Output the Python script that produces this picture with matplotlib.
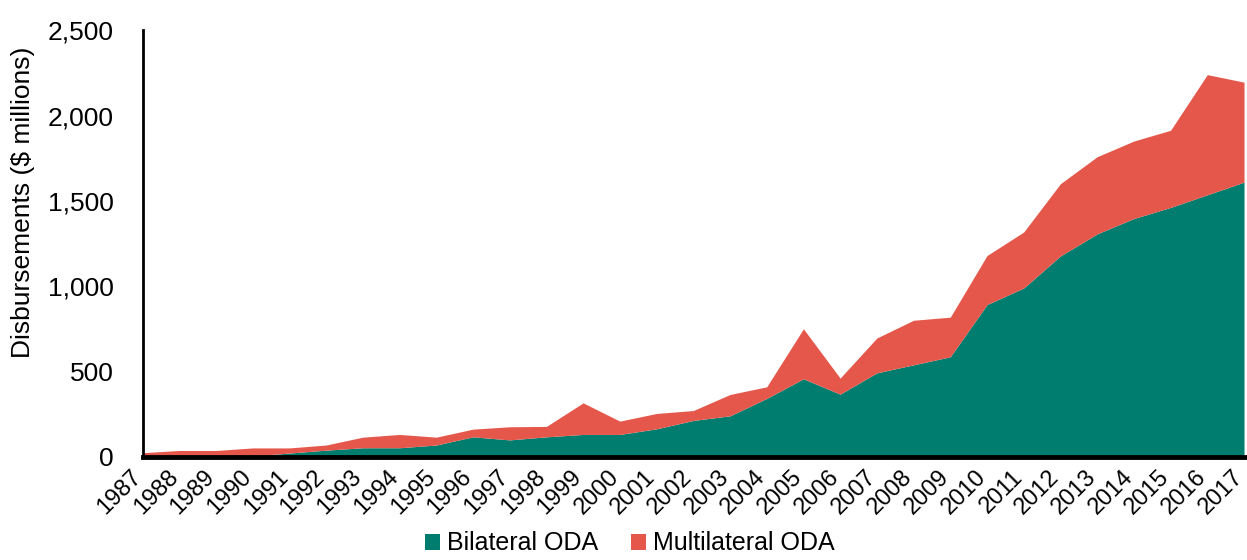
import matplotlib
matplotlib.use("Agg")
import matplotlib.pyplot as plt
from matplotlib.patches import Patch
from matplotlib.ticker import FuncFormatter
from matplotlib.transforms import ScaledTranslation

years = list(range(1987, 2018))
bilateral = [0, 0, 0, 3, 20, 37, 51, 51, 67, 115, 97, 115, 129, 129,
             162, 211, 238, 340, 455, 365, 490, 537, 584, 890, 987,
             1175, 1304, 1394, 1459, 1533, 1607]
total = [22, 35, 35, 50, 50, 67, 113, 129, 113, 160, 174, 176, 314, 207,
         252, 269, 363, 408, 748, 459, 694, 798, 816, 1177, 1315,
         1598, 1756, 1848, 1911, 2237, 2193]
multilateral = [t - b for t, b in zip(total, bilateral)]
series_names = ["Bilateral ODA", "Multilateral ODA"]
colors = ["#007D6E", "#E5574A"]

plt.rcParams['font.family'] = ['Liberation Sans', 'DejaVu Sans']

fig = plt.figure(figsize=(12.47, 5.6), dpi=100)
ax = fig.add_axes([0.1147, 0.184, 0.8833, 0.762])

ax.stackplot(years, bilateral, multilateral, colors=colors, linewidth=0)

ax.set_xlim(1987, 2017)
ax.set_ylim(0, 2500)
ax.set_yticks([0, 500, 1000, 1500, 2000, 2500])
ax.yaxis.set_major_formatter(FuncFormatter(lambda v, p: f"{int(v):,}"))
ax.set_xticks(years)
ax.set_xticklabels([str(y) for y in years], rotation=45, ha='right',
                   va='center', rotation_mode='anchor', fontsize=17)
ax.tick_params(axis='y', labelsize=19, length=0, pad=21)
ax.tick_params(axis='x', length=0, pad=12)
ax.set_ylabel("Disbursements ($ millions)", fontsize=19)
ax.yaxis.set_label_coords(-0.098, 0.597)

for s in ['top', 'right']:
    ax.spines[s].set_visible(False)
ax.spines['left'].set_linewidth(2)
ax.spines['bottom'].set_linewidth(3.5)

handles = [Patch(facecolor=c, edgecolor='none') for c in colors]
fig.legend(handles, series_names, loc='lower center', ncol=2, frameon=False,
           fontsize=18, handlelength=0.6, handleheight=0.6, handletextpad=0.3,
           columnspacing=1.3, bbox_to_anchor=(0.505, -0.032))

fig.canvas.draw()
offset = ScaledTranslation(-5 / 100, 0, fig.dpi_scale_trans)
for tick in ax.xaxis.get_major_ticks():
    tick.label1.set_transform(tick.label1.get_transform() + offset)

fig.savefig("out.png", dpi=100)
